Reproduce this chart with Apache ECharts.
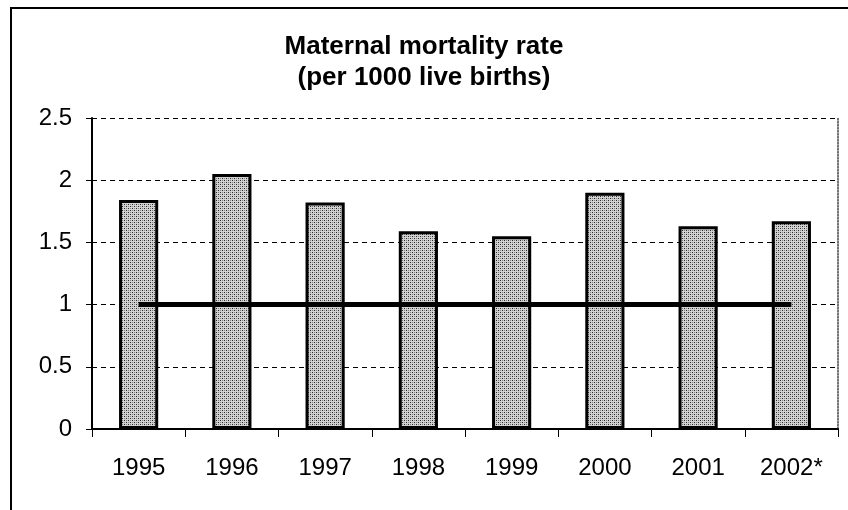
<!DOCTYPE html>
<html>
<head>
<meta charset="utf-8">
<script src="https://cdn.jsdelivr.net/npm/echarts@6/dist/echarts.min.js"></script>
<style>
  html, body { margin: 0; padding: 0; background: #fff; }
  #chart { width: 848px; height: 510px; }
</style>
</head>
<body>
<div id="chart"></div>
<script>
let years = ['1995', '1996', '1997', '1998', '1999', '2000', '2001', '2002*'];
let rates = [1.84, 2.05, 1.82, 1.59, 1.55, 1.90, 1.63, 1.67];
let targetLine = [1, 1, 1, 1, 1, 1, 1, 1];

// dotted grey fill like the printed hatch
function makePattern() {
    let c = document.createElement('canvas');
    c.width = 4;
    c.height = 4;
    let ctx = c.getContext('2d');
    ctx.fillStyle = '#d2d2d2';
    ctx.fillRect(0, 0, 4, 4);
    ctx.fillStyle = '#2a2a2a';
    ctx.fillRect(0, 0, 1, 1);
    ctx.fillRect(2, 2, 1, 1);
    ctx.fillStyle = '#808080';
    ctx.fillRect(2, 0, 1, 1);
    ctx.fillRect(0, 2, 1, 1);
    return c;
}

let myChart = echarts.init(document.getElementById('chart'));
let font = 'Liberation Sans, Arial, sans-serif';

let option = {
    animation: false,
    backgroundColor: '#fff',
    title: {
        text: 'Maternal mortality rate\n(per 1000 live births)',
        left: 'center',
        top: 26,
        textStyle: {
            fontFamily: font,
            fontSize: 26,
            fontWeight: 'bold',
            color: '#000',
            lineHeight: 31
        }
    },
    graphic: [
        {
            type: 'rect',
            shape: { x: 11, y: 8, width: 900, height: 540 },
            style: { fill: 'none', stroke: '#000', lineWidth: 2 },
            silent: true
        }
    ],
    grid: {
        left: 92,
        right: 10,
        top: 118,
        bottom: 81
    },
    xAxis: {
        type: 'category',
        data: years,
        axisLine: { lineStyle: { color: '#000', width: 2 } },
        axisTick: { show: true, length: 8, lineStyle: { color: '#000' } },
        axisLabel: {
            fontFamily: font,
            fontSize: 24,
            color: '#000',
            margin: 27
        }
    },
    yAxis: [
        {
            type: 'value',
            min: 0,
            max: 2.5,
            interval: 0.5,
            axisLine: { show: true, lineStyle: { color: '#000', width: 2 } },
            axisTick: { show: true, length: 6, lineStyle: { color: '#000' } },
            axisLabel: {
                fontFamily: font,
                fontSize: 24,
                color: '#000',
                margin: 20
            },
            splitLine: {
                show: true,
                lineStyle: { color: '#000', type: [5, 4], width: 1.2 }
            }
        },
        {
            type: 'value',
            min: 0,
            max: 2.5,
            interval: 0.5,
            position: 'right',
            axisLine: { show: true, lineStyle: { color: '#444', type: 'dotted', width: 1.5 } },
            axisTick: { show: false },
            axisLabel: { show: false },
            splitLine: { show: false }
        }
    ],
    series: [
        {
            name: 'Rate',
            type: 'bar',
            data: rates,
            barWidth: '42%',
            itemStyle: {
                color: { image: makePattern(), repeat: 'repeat' },
                borderColor: '#000',
                borderWidth: 3
            },
            z: 2
        },
        {
            name: 'Target',
            type: 'line',
            data: targetLine,
            symbol: 'none',
            lineStyle: { color: '#000', width: 5 },
            z: 3
        }
    ]
};

myChart.setOption(option);
</script>
</body>
</html>
